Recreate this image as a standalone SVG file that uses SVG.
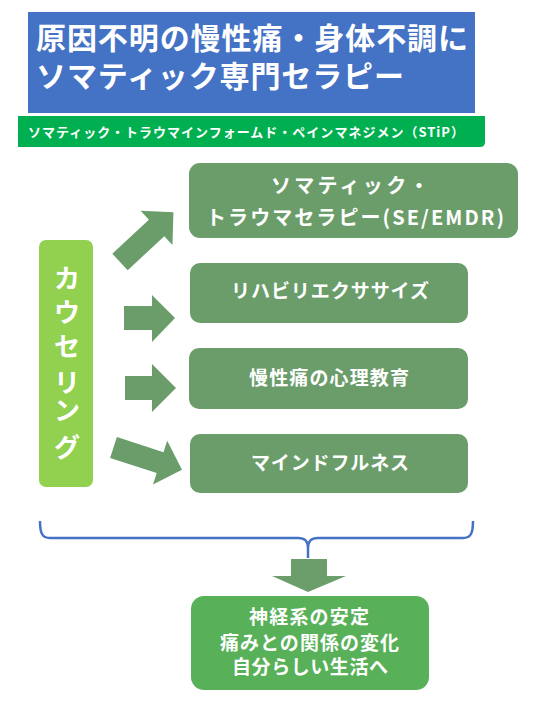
<svg xmlns="http://www.w3.org/2000/svg" width="544" height="714" viewBox="0 0 544 714">
<style>
text{font-family:"Noto Sans CJK JP","Noto Sans",sans-serif;font-weight:bold;fill:#fff}
.box{fill:#6A9D6A}
.arr{fill:#6A9D6A}
.t19{font-size:19px}
.t20{font-size:20px}
.v{font-size:26px;text-anchor:middle}
</style>
<rect width="544" height="714" fill="#fff"/>
<g id="title">
<rect x="28" y="12" width="447" height="101" fill="#4472C4"/>
<text x="36" y="49" font-size="30" textLength="432" lengthAdjust="spacing">原因不明の慢性痛・身体不調に</text>
<text x="36" y="87" font-size="30" textLength="368" lengthAdjust="spacing">ソマティック専門セラピー</text>
</g>
<g id="subtitle">
<path d="M18,116 H485 V142 Q485,147 480,147 H18 Z" fill="#00B050"/>
<text x="28" y="137" font-size="13" textLength="436" lengthAdjust="spacing">ソマティック・トラウマインフォームド・ペインマネジメン（STiP）</text>
</g>
<g id="counseling">
<rect x="39" y="240" width="54" height="247" rx="7" fill="#92D050"/>
<text class="v" x="67" y="288">カ</text>
<text class="v" x="67" y="322">ウ</text>
<text class="v" x="67" y="356">セ</text>
<text class="v" x="67" y="392">リ</text>
<text class="v" x="67" y="420">ン</text>
<text class="v" x="67" y="457">グ</text>
</g>
<g id="connectors">
<polygon class="arr" transform="translate(120,262) rotate(-43)" points="0,-11.3 50,-11.3 50,-23.3 73,0 50,23.3 50,11.3 0,11.3"/>
<polygon class="arr" points="124,306 152,306 152,295 175,318 152,342 152,330 124,330"/>
<polygon class="arr" points="125,376 152,376 152,364 176,388 152,412 152,400 125,400"/>
<polygon class="arr" transform="translate(113.5,447.5) rotate(18)" points="0,-11 49,-11 49,-23 72,0 49,23 49,11 0,11"/>
<path d="M40,521 C40,533 42,538 50,538 L298,538 C305,538 308,541 308,548 L308,558 M308,548 C308,541 311,538 318,538 L463,538 C471,538 473,533 473,521" fill="none" stroke="#4472C4" stroke-width="2.5"/>
<polygon fill="#6C9E6C" points="291,559 327,559 327,576 346,576 308,592 272,576 291,576"/>
</g>
<g id="somatic">
<rect class="box" x="189" y="163" width="329" height="75" rx="11"/>
<text class="t20" x="271" y="193" textLength="158" lengthAdjust="spacing">ソマティック・</text>
<text class="t20" x="206" y="225" textLength="298" lengthAdjust="spacing">トラウマセラピー(SE/EMDR)</text>
</g>
<g id="rehab">
<rect class="box" x="190" y="263" width="278" height="60" rx="10"/>
<text class="t19" x="231" y="298" textLength="198" lengthAdjust="spacing">リハビリエクササイズ</text>
</g>
<g id="education">
<rect class="box" x="189" y="348" width="279" height="61" rx="10"/>
<text class="t19" x="249" y="385" textLength="160" lengthAdjust="spacing">慢性痛の心理教育</text>
</g>
<g id="mindfulness">
<rect class="box" x="190" y="434" width="278" height="59" rx="10"/>
<text class="t19" x="251" y="470" textLength="158" lengthAdjust="spacing">マインドフルネス</text>
</g>
<g id="outcome">
<rect x="191" y="596" width="238" height="94" rx="13" fill="#58B158"/>
<text class="t19" x="249" y="624" textLength="120" lengthAdjust="spacing">神経系の安定</text>
<text class="t19" x="220" y="650" textLength="179" lengthAdjust="spacing">痛みとの関係の変化</text>
<text class="t19" x="232" y="674" textLength="156" lengthAdjust="spacing">自分らしい生活へ</text>
</g>
</svg>
